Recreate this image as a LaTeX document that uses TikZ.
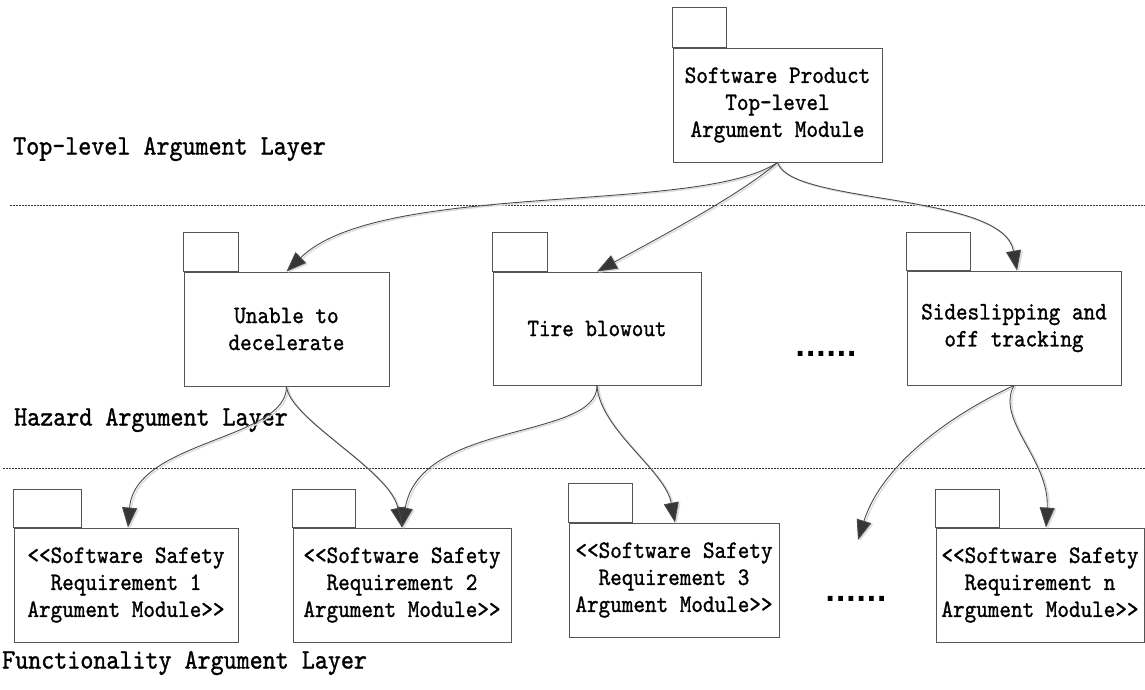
\documentclass[tikz,border=0pt]{standalone}
\usepackage{fontspec}
\newfontfamily\monofont[Extension=.otf, FakeBold=1.1, FakeStretch=0.88]{lmmono10-regular}
\newfontfamily\dotfont{DejaVu Sans}
\usetikzlibrary{arrows.meta}
\definecolor{edge}{HTML}{555555}
\definecolor{wire}{HTML}{4A4A4A}
\definecolor{tipc}{HTML}{363636}
\definecolor{haze}{HTML}{DCDCDC}
\newcommand\openmark{<\kern0pt<}
\newcommand\closemark{>\kern0pt>}

\begin{document}
\begin{tikzpicture}[x=1pt,y=-1pt,
  pkg/.style={draw=edge, line width=0.9pt, inner sep=0pt, align=center,
    font=\monofont\fontsize{25.1}{27}\selectfont, text=black},
  tabbox/.style={draw=edge, line width=0.9pt},
  layer/.style={anchor=west, inner sep=0pt, font=\monofont\fontsize{28.2}{30}\selectfont},
  sep/.style={draw=black!80, line width=0.7pt, dash pattern=on 2pt off 1pt},
  gapdots/.style={inner sep=0pt, font=\dotfont\bfseries\fontsize{27}{27}\selectfont},
  conn/.style={draw=wire, line width=0.9pt,
    -{Triangle[length=20pt,width=15pt,fill=tipc]},
    preaction={draw=haze, line width=1.4pt, -{Triangle[length=20pt,width=15pt]},
      transform canvas={xshift=1.8pt,yshift=-1.2pt}}}]
\useasboundingbox (0,0) rectangle (1145,689);

% layer separators
\draw[sep] (10,205) -- (1145,205);
\draw[sep] (3,468) -- (1145,468);

% layer captions
\node[layer] (capTop) at (13,149) {Top-level Argument Layer};
\node[layer] (capHaz) at (14,420) {Hazard Argument Layer};
\node[layer] (capFun) at (2,663) {Functionality Argument Layer};

% top-level package
\node[pkg, minimum width=209, minimum height=114] (top) at (777.5,105)
  {Software Product\\Top-level\\Argument Module};
\draw[tabbox] (top.north west) rectangle ++(54,-40);

% hazard packages
\node[pkg, minimum width=205, minimum height=114] (h1) at (286.5,329)
  {Unable to\\decelerate};
\draw[tabbox] (h1.north west) rectangle ++(55,-39);
\node[pkg, minimum width=208, minimum height=113] (h2) at (597,328.5)
  {Tire blowout};
\draw[tabbox] (h2.north west) rectangle ++(55,-39);
\node[pkg, minimum width=214, minimum height=114] (h3) at (1014,328)
  {Sideslipping and\\off tracking};
\draw[tabbox] (h3.north west) rectangle ++(64,-38);
\node[gapdots] (gapH) at (826,354) {......};

% functionality packages
\node[pkg, minimum width=224, minimum height=114] (f1) at (126,585)
  {\openmark Software Safety\\Requirement 1\\Argument Module\closemark};
\draw[tabbox] (f1.north west) rectangle ++(68,-38);
\node[pkg, minimum width=218, minimum height=114] (f2) at (402,585)
  {\openmark Software Safety\\Requirement 2\\Argument Module\closemark};
\draw[tabbox] (f2.north west) rectangle ++(63,-38);
\node[pkg, minimum width=210, minimum height=114] (f3) at (674,580)
  {\openmark Software Safety\\Requirement 3\\Argument Module\closemark};
\draw[tabbox] (f3.north west) rectangle ++(64,-39);
\node[pkg, minimum width=208, minimum height=114] (fn) at (1040,585)
  {\openmark Software Safety\\Requirement n\\Argument Module\closemark};
\draw[tabbox] (fn.north west) rectangle ++(64,-38);
\node[gapdots] (gapF) at (856,599) {......};
\coordinate (gapIn) at (858,540);

% top-level to hazards
\draw[conn] (top.south) .. controls (700,215) and (380,180) .. (h1.north);
\draw[conn] (top.south) .. controls (740,195) and (660,237) .. (h2.north);
\draw[conn] (top.south) .. controls (790,205) and (1003,192) .. ([xshift=3pt]h3.north);

% hazards to functionality
\draw[conn] (h1.south) .. controls (287,440) and (135,440) .. ([xshift=2pt]f1.north);
\draw[conn] (h1.south) .. controls (290,420) and (390,470) .. (f2.north);
\draw[conn] (h2.south) .. controls (598,440) and (420,420) .. (f2.north);
\draw[conn] (h2.south) .. controls (600,430) and (665,470) .. ([xshift=1pt]f3.north);
\draw[conn] (h3.south) .. controls (940,420) and (880,470) .. (gapIn);
\draw[conn] (h3.south) .. controls (995,420) and (1050,460) .. ([xshift=6pt]fn.north);
\end{tikzpicture}
\end{document}
